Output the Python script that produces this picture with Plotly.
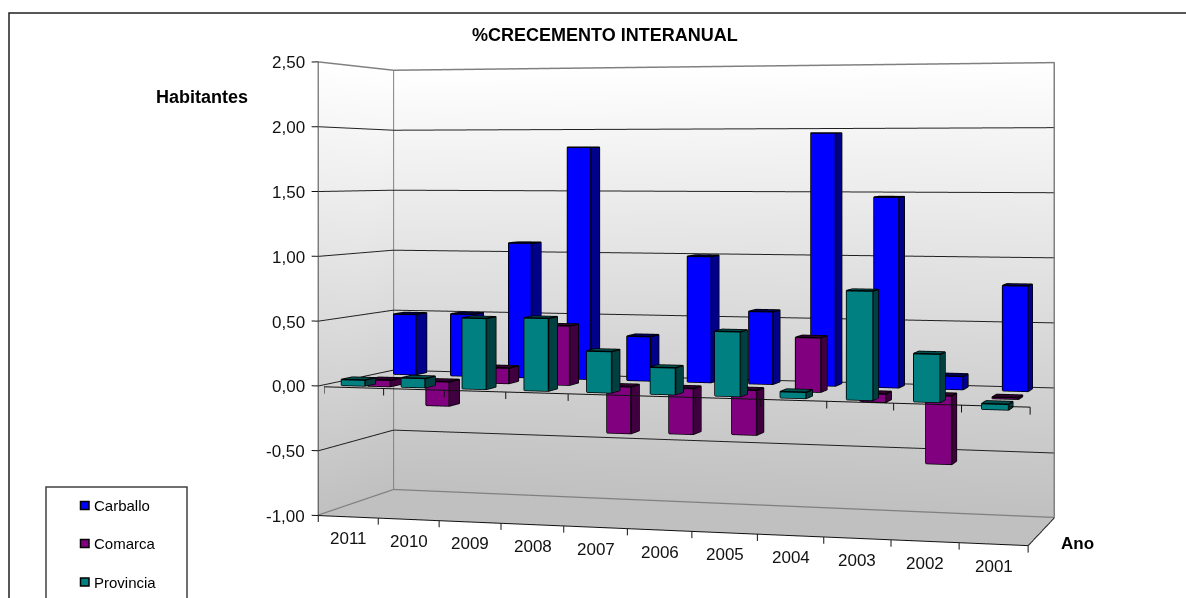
import plotly.graph_objects as go

years = ["2011", "2010", "2009", "2008", "2007", "2006", "2005", "2004", "2003", "2002", "2001"]
carballo = [0.49, 0.50, 1.08, 1.85, 0.35, 0.99, 0.565, 1.96, 1.465, 0.10, 0.80]
comarca = [-0.05, -0.19, 0.12, 0.46, -0.36, -0.35, -0.34, 0.41, -0.06, -0.51, -0.01]
provincia = [0.045, 0.07, 0.54, 0.55, 0.31, 0.20, 0.48, 0.045, 0.80, 0.35, -0.04]
z_ticks = [-1.0, -0.5, 0.0, 0.5, 1.0, 1.5, 2.0, 2.5]

W, H = 1186, 598
N = len(years)
DEPTH = 3.0
ZMIN, ZMAX = -1.0, 2.5
FONT = "Liberation Sans"


def warp(x, y, z):
    """Pseudo perspective inside the scene: the far side narrows, near/right grows."""
    s = 1.0358 - 0.02387 * y
    u, v = x / N, y / DEPTH
    t = ((1 - u) * (1 - v) * 1.018 + (1 - u) * v * 0.942 + u * v * 1.022 + u * (1 - v) * 1.094)
    xx = x - 0.007 * x * (N - x)
    return 5.5 + (xx - 5.5) * s, y, -1 + (z + 1) * t


fig = go.Figure()
LIGHT = dict(ambient=1, diffuse=0, specular=0, roughness=1, fresnel=0)


def wall(corners, colors):
    pts = [warp(*c) for c in corners]
    fig.add_trace(go.Mesh3d(
        x=[p[0] for p in pts], y=[p[1] for p in pts], z=[p[2] for p in pts],
        i=[0, 0], j=[1, 2], k=[2, 3], vertexcolor=colors, lighting=LIGHT,
        hoverinfo="skip", showlegend=False))


TOPC, BOTC = "rgb(255,255,255)", "rgb(192,192,192)"
wall([(0, DEPTH, ZMIN), (N, DEPTH, ZMIN), (N, DEPTH, ZMAX), (0, DEPTH, ZMAX)], [BOTC, BOTC, TOPC, TOPC])
wall([(0, 0, ZMIN), (0, DEPTH, ZMIN), (0, DEPTH, ZMAX), (0, 0, ZMAX)], [BOTC, BOTC, TOPC, TOPC])
wall([(0, 0, ZMIN), (N, 0, ZMIN), (N, DEPTH, ZMIN), (0, DEPTH, ZMIN)], [BOTC] * 4)


def polyline(segments, color, width):
    xs, ys, zs = [], [], []
    for seg in segments:
        for p in seg:
            q = warp(*p)
            xs.append(q[0]); ys.append(q[1]); zs.append(q[2])
        xs.append(None); ys.append(None); zs.append(None)
    fig.add_trace(go.Scatter3d(x=xs, y=ys, z=zs, mode="lines", line=dict(color=color, width=width),
                               hoverinfo="skip", showlegend=False))


EPS = 0.004
# gridlines on left and back walls
polyline([[(EPS, 0, v), (EPS, DEPTH - EPS, v), (N, DEPTH - EPS, v)] for v in z_ticks if ZMIN < v < ZMAX], "#202020", 2)
# wall outlines
polyline([[(EPS, 0, ZMAX), (EPS, DEPTH - EPS, ZMAX), (N, DEPTH - EPS, ZMAX), (N, DEPTH - EPS, ZMIN)],
          [(EPS, DEPTH - EPS, ZMAX), (EPS, DEPTH - EPS, ZMIN)],
          [(EPS, 0, ZMIN + EPS), (EPS, DEPTH - EPS, ZMIN + EPS), (N, DEPTH - EPS, ZMIN + EPS)]], "#808080", 3)
# axes
polyline([[(0, 0, ZMIN), (N, 0, ZMIN), (N, DEPTH, ZMIN)], [(0, 0, ZMIN), (0, 0, ZMAX)]], "#101010", 2)
polyline([[(-0.11, 0, v), (0, 0, v)] for v in z_ticks], "#101010", 2)
polyline([[(i, 0, ZMIN), (i, 0, ZMIN - 0.05)] for i in range(N + 1)], "#101010", 2)

# zero line sits just behind the front face of the front row of bars
Y0 = 0.23
polyline([[(0, Y0, -0.016), (N, Y0, -0.016)]] + [[(i, Y0, -0.016), (i, Y0, -0.07)] for i in range(N + 1)], "#101010", 2)

BAR_W, BAR_D = 0.39, 0.44
series = [
    ("Provincia", provincia, 0.22, "#008080", "#004040", "#005050"),
    ("Comarca", comarca, 1.28, "#800080", "#400040", "#300030"),
    ("Carballo", carballo, 2.34, "#0000ff", "#00008b", "#000060"),
]
FACES = [((0, 1, 2), (0, 2, 3), 0), ((1, 5, 6), (1, 6, 2), 1), ((3, 2, 6), (3, 6, 7), 2),
         ((4, 0, 3), (4, 3, 7), 1), ((5, 4, 7), (5, 7, 6), 1), ((4, 5, 1), (4, 1, 0), 0)]
EDGES = [[0, 1, 2, 3, 0], [4, 5, 6, 7, 4], [0, 4], [1, 5], [2, 6], [3, 7]]

for name, vals, y_front, c_front, c_side, c_top in series:
    X, Y, Z, I, J, K, FC, segs = [], [], [], [], [], [], [], []
    for idx, val in enumerate(vals):
        x0 = idx + 0.30
        x1 = x0 + BAR_W
        y0, y1 = y_front, y_front + BAR_D
        lo, hi = min(0, val), max(0, val)
        raw = [(x0, y0, lo), (x1, y0, lo), (x1, y0, hi), (x0, y0, hi),
               (x0, y1, lo), (x1, y1, lo), (x1, y1, hi), (x0, y1, hi)]
        base = len(X)
        for p in raw:
            q = warp(*p)
            X.append(q[0]); Y.append(q[1]); Z.append(q[2])
        for a, b, kind in FACES:
            for tri in (a, b):
                I.append(base + tri[0]); J.append(base + tri[1]); K.append(base + tri[2])
                FC.append([c_front, c_side, c_top][kind])
        for e in EDGES:
            segs.append([raw[n] for n in e])
    fig.add_trace(go.Mesh3d(x=X, y=Y, z=Z, i=I, j=J, k=K, facecolor=FC, flatshading=True,
                            lighting=LIGHT, name=name, hoverinfo="skip", showlegend=False))
    polyline(segs, "#000000", 3)

# Tick labels tied to the scene coordinates
scene_ann = []
for v in z_ticks:
    q = warp(0, 0, v)
    scene_ann.append(dict(x=q[0], y=q[1], z=q[2], text=f"{v:.2f}".replace(".", ","), showarrow=False,
                          xanchor="right", yanchor="middle", xshift=-11, yshift=-1,
                          font=dict(family=FONT, size=17, color="#111111")))
for i, yr in enumerate(years):
    q = warp(i + 0.5, 0, ZMIN)
    scene_ann.append(dict(x=q[0], y=q[1], z=q[2], text=yr, showarrow=False, xanchor="center", yanchor="middle",
                          yshift=-22, xshift=1, font=dict(family=FONT, size=17, color="#111111")))

EYE_L = 2.0
eye = dict(x=0.2702 * EYE_L, y=-0.9511 * EYE_L, z=0.1491 * EYE_L)

dom_x0 = 2 * 697.75 / W - 1
dom_y0 = 2 * (H - 294.5) / H - 1
ZOOM = 1.88

fig.update_layout(
    width=W, height=H, autosize=False, margin=dict(l=0, r=0, t=0, b=0),
    paper_bgcolor="white", showlegend=False, font=dict(family=FONT),
    scene=dict(
        domain=dict(x=[dom_x0, 1], y=[dom_y0, 1]),
        xaxis=dict(range=[-0.5, 11.5], visible=False),
        yaxis=dict(range=[-0.5, 3.5], visible=False),
        zaxis=dict(range=[-1.4, 2.9], visible=False),
        aspectmode="manual", aspectratio=dict(x=1.404 * ZOOM, y=0.4459 * ZOOM, z=1.0 * ZOOM),
        camera=dict(eye=eye, center=dict(x=0, y=0, z=0), up=dict(x=0, y=0, z=1),
                    projection=dict(type="orthographic")),
        annotations=scene_ann,
    ),
)


def px(x):
    return x / W


def py(y):
    return 1 - y / H


def text(x, y, s, size, bold=False, anchor="left"):
    fig.add_annotation(xref="paper", yref="paper", x=px(x), y=py(y), text=f"<b>{s}</b>" if bold else s,
                       showarrow=False, xanchor=anchor, yanchor="middle",
                       font=dict(family=FONT, size=size, color="#000000"))


text(605, 35, "%CRECEMENTO INTERANUAL", 18, True, "center")
text(154, 97, "Habitantes", 18, True)
text(1059, 543, "Ano", 17, True)

# chart frame and legend box (both run off the picture)
fig.add_shape(type="rect", xref="paper", yref="paper", x0=px(9), x1=px(1300), y0=py(13), y1=py(700),
              line=dict(color="#202020", width=1.5))
fig.add_shape(type="rect", xref="paper", yref="paper", x0=px(46), x1=px(187), y0=py(487), y1=py(700),
              line=dict(color="#404040", width=1.5), fillcolor="white")
legend_rows = [("Carballo", "#0000ff", 505.5), ("Comarca", "#800080", 543.5), ("Provincia", "#008080", 582)]
for label, col, yy in legend_rows:
    fig.add_shape(type="rect", xref="paper", yref="paper", x0=px(80.5), x1=px(89), y0=py(yy - 4), y1=py(yy + 4),
                  line=dict(color="#000000", width=1.5), fillcolor=col)
    text(92, yy, label, 15)

fig.write_html("out.html", config={"displayModeBar": False},
               post_script="document.body.style.margin='0';document.documentElement.style.overflow='hidden';")
